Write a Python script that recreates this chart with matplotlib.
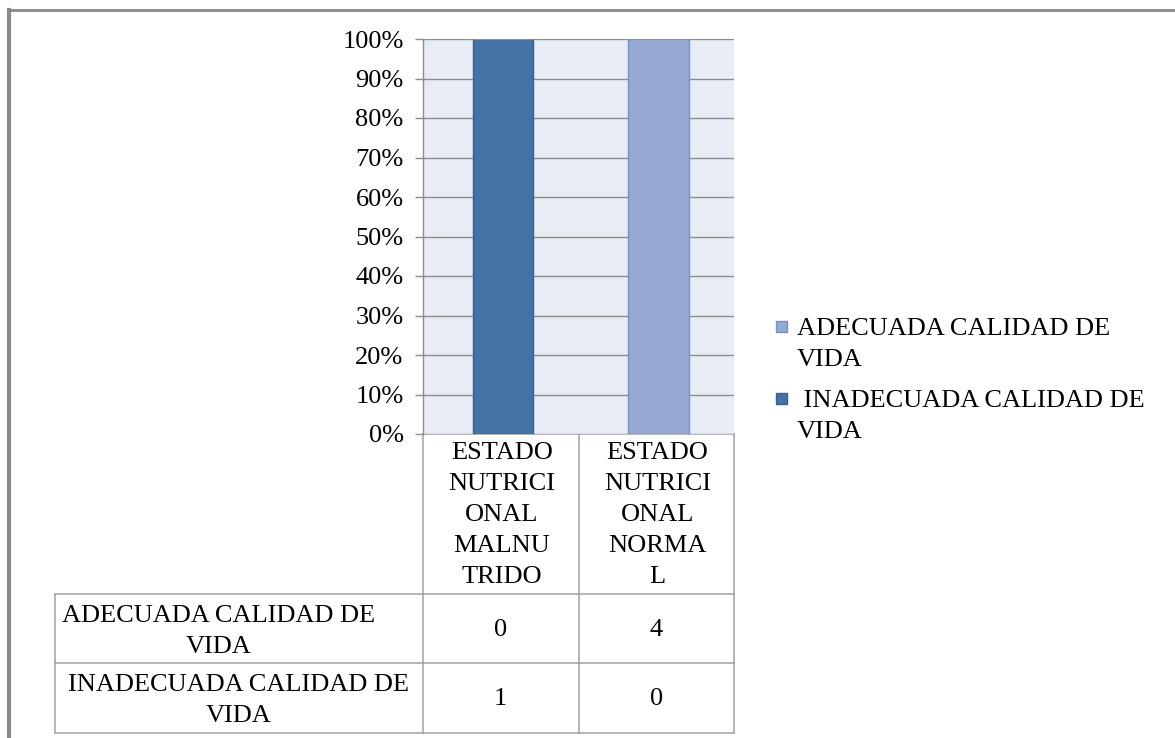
import matplotlib
matplotlib.use("Agg")
import matplotlib.pyplot as plt
from matplotlib.patches import Rectangle
from matplotlib.lines import Line2D

# ---- data ----
categories = ["ESTADO\nNUTRICI\nONAL\nMALNU\nTRIDO", "ESTADO\nNUTRICI\nONAL\nNORMA\nL"]
series_names = ["ADECUADA CALIDAD DE\nVIDA", "INADECUADA CALIDAD DE\nVIDA"]
adecuada = [0, 4]
inadecuada = [1, 0]
yticks = [0, 10, 20, 30, 40, 50, 60, 70, 80, 90, 100]
ytick_labels = ["0%", "10%", "20%", "30%", "40%", "50%", "60%", "70%", "80%", "90%", "100%"]

col_ad = "#95A9D2"
col_in = "#4472A4"
edge_ad = "#7890C0"
edge_in = "#37608E"

plt.rcParams['font.family'] = ['Liberation Serif', 'DejaVu Serif']
FS = 19
LS = 1.52

W, H = 1175, 738
fig = plt.figure(figsize=(W / 100, H / 100), dpi=100)
fig.patch.set_facecolor("white")

def rect(l, t, r, b):
    return [l / W, 1 - b / H, (r - l) / W, (b - t) / H]

# overlay axes in pixel coordinates
ov = fig.add_axes([0, 0, 1, 1])
ov.set_xlim(0, W)
ov.set_ylim(H, 0)
ov.axis("off")

# plot area
PL, PT, PR, PB = 423, 39, 734, 434
ax = fig.add_axes(rect(PL, PT, PR, PB))
ax.set_facecolor("#E8ECF5")
totals = [a + b for a, b in zip(adecuada, inadecuada)]
pin = [100 * v / t for v, t in zip(inadecuada, totals)]
pad = [100 * v / t for v, t in zip(adecuada, totals)]
x = list(range(len(categories)))
bw = 0.39
ax.bar(x, pin, bw, color=col_in, edgecolor=edge_in, linewidth=1, zorder=3)
ax.bar(x, pad, bw, bottom=pin, color=col_ad, edgecolor=edge_ad, linewidth=1, zorder=3)
ax.set_xlim(-0.515, len(categories) - 0.515)
ax.set_ylim(0, 100)
ax.set_yticks(yticks)
ax.set_yticklabels(ytick_labels, fontsize=FS)
ax.set_xticks([])
ax.yaxis.grid(True, color="#8C8C8C", linewidth=1.0, zorder=1)
for s in ["top", "right", "bottom"]:
    ax.spines[s].set_visible(False)
ax.spines["left"].set_color("#8C8C8C")
ax.spines["left"].set_linewidth(1.0)
ax.tick_params(axis="y", length=6, width=1.0, color="#8C8C8C", pad=8)

# outer frame (top and left)
ov.add_line(Line2D([9, W], [10, 10], color="#8A8A8A", lw=2))
ov.add_line(Line2D([9, 9], [10, H], color="#8A8A8A", lw=3))

# data table
TL = 55
xs = [PL, (PL + PR) / 2, PR]
HT, R1, R2, R3 = PB, 594, 663, 733
lc = "#A0A0A0"
lw = 1.1
ov.add_line(Line2D([PL, PL], [HT, R3], color=lc, lw=lw))
ov.add_line(Line2D([xs[1], xs[1]], [HT, R3], color=lc, lw=lw))
ov.add_line(Line2D([PR, PR], [HT, R3], color=lc, lw=lw))
ov.add_line(Line2D([PL, PR], [HT, HT], color=lc, lw=lw))
ov.add_line(Line2D([TL, PR], [R1, R1], color=lc, lw=lw))
ov.add_line(Line2D([TL, PR], [R2, R2], color=lc, lw=lw))
ov.add_line(Line2D([TL, PR], [R3, R3], color=lc, lw=lw))
ov.add_line(Line2D([TL, TL], [R1, R3], color=lc, lw=lw))

for i, c in enumerate(categories):
    ov.text((xs[i] + xs[i + 1]) / 2 + 1, 515, c, ha="center", va="center",
            fontsize=FS, linespacing=LS)

rows = [adecuada, inadecuada]
row_b = [(R1, R2), (R2, R3)]
label_x = [219, 239]
label_y = [631.5, 700.5]
for r, (name, vals) in enumerate(zip(series_names, rows)):
    t, b = row_b[r]
    ov.text(label_x[r], label_y[r], name, ha="center", va="center",
            fontsize=FS, linespacing=LS)
    for i, v in enumerate(vals):
        ov.text((xs[i] + xs[i + 1]) / 2, (t + b) / 2 + 1, str(v), ha="center", va="center",
                fontsize=FS)

# legend (manual)
leg_items = [(series_names[0], col_ad, edge_ad, 327), (" " + series_names[1], col_in, edge_in, 399)]
for name, fc, ec, yc in leg_items:
    ov.add_patch(Rectangle((776, yc - 6), 11, 11, facecolor=fc, edgecolor=ec, lw=1))
    ov.text(797, yc + 17.5, name, ha="left", va="center", fontsize=FS, linespacing=LS)

fig.savefig("out.png", dpi=100, facecolor="white")
